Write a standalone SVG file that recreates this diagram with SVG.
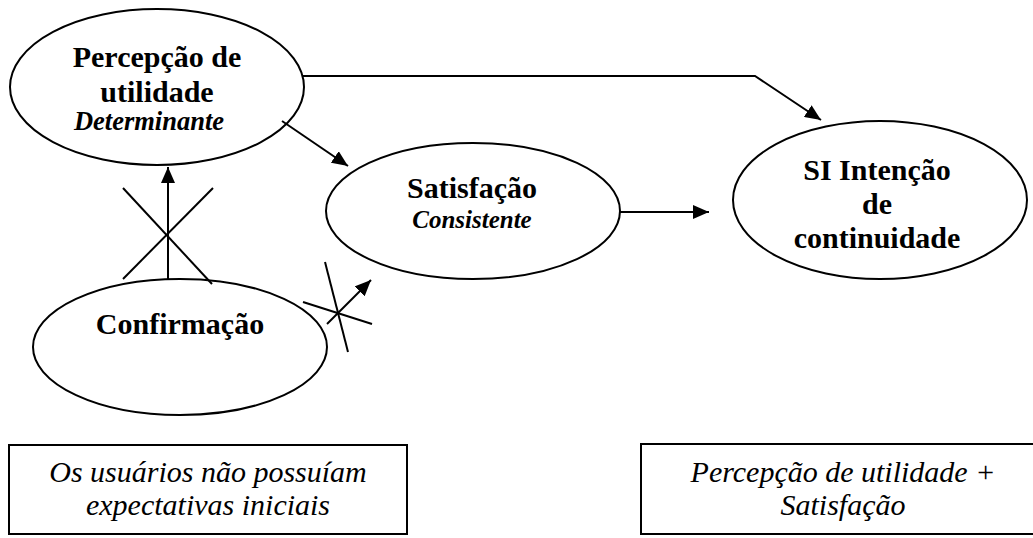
<svg xmlns="http://www.w3.org/2000/svg" width="1033" height="538" viewBox="0 0 1033 538">
<style>
.shape{fill:#fff;stroke:#000;stroke-width:2}
.ln{fill:none;stroke:#000;stroke-width:2}
text{font-family:'Liberation Serif',serif;fill:#000;text-anchor:middle}
.b{font-weight:bold;font-size:30px}
.bi{font-weight:bold;font-style:italic;font-size:25px}
.i{font-style:italic;font-size:30px}
</style>
<defs>
<marker id="ah" markerWidth="16" markerHeight="14" refX="16" refY="7" orient="auto" markerUnits="userSpaceOnUse">
<path d="M0,0 L16,7 L0,14 Z" fill="#000"/>
</marker>
</defs>
<rect width="1033" height="538" fill="#fff"/>
<g id="n-percepcao">
<ellipse class="shape" cx="157" cy="87" rx="147" ry="78"/>
<text class="b" x="157" y="67">Percepção de</text>
<text class="b" x="157" y="102">utilidade</text>
<text class="bi" x="149" y="130" style="font-size:26.5px">Determinante</text>
</g>
<g id="n-satisfacao">
<ellipse class="shape" cx="473" cy="211" rx="147" ry="68"/>
<text class="b" x="472" y="198">Satisfação</text>
<text class="bi" x="472" y="228">Consistente</text>
</g>
<g id="n-si">
<ellipse class="shape" cx="880" cy="200" rx="147" ry="79"/>
<text class="b" x="877" y="180">SI Intenção</text>
<text class="b" x="877" y="214">de</text>
<text class="b" x="877" y="248">continuidade</text>
</g>
<g id="n-confirmacao">
<ellipse class="shape" cx="180" cy="347" rx="147" ry="68"/>
<text class="b" x="180" y="334">Confirmação</text>
</g>
<g id="n-box-left">
<rect class="shape" x="9" y="445" width="398" height="89"/>
<text class="i" x="208" y="482">Os usuários não possuíam</text>
<text class="i" x="208" y="515">expectativas iniciais</text>
</g>
<g id="n-box-right">
<rect class="shape" x="641" y="444" width="400" height="90"/>
<text class="i" x="843" y="482">Percepção de utilidade +</text>
<text class="i" x="843" y="515">Satisfação</text>
</g>
<g id="connectors">
<polyline class="ln" points="303,76 755,76 821,120" marker-end="url(#ah)"/>
<line class="ln" x1="282" y1="121" x2="348" y2="166" marker-end="url(#ah)"/>
<line class="ln" x1="620" y1="212" x2="709" y2="212" marker-end="url(#ah)"/>
<line class="ln" x1="168" y1="279" x2="168" y2="167" marker-end="url(#ah)"/>
<line class="ln" x1="327" y1="324" x2="371" y2="280" marker-end="url(#ah)"/>
<line class="ln" x1="123" y1="188" x2="212" y2="284"/>
<line class="ln" x1="213" y1="188" x2="123" y2="279"/>
<line class="ln" x1="303" y1="302" x2="372" y2="324"/>
<line class="ln" x1="325" y1="262" x2="348" y2="352"/>
</g>
</svg>
